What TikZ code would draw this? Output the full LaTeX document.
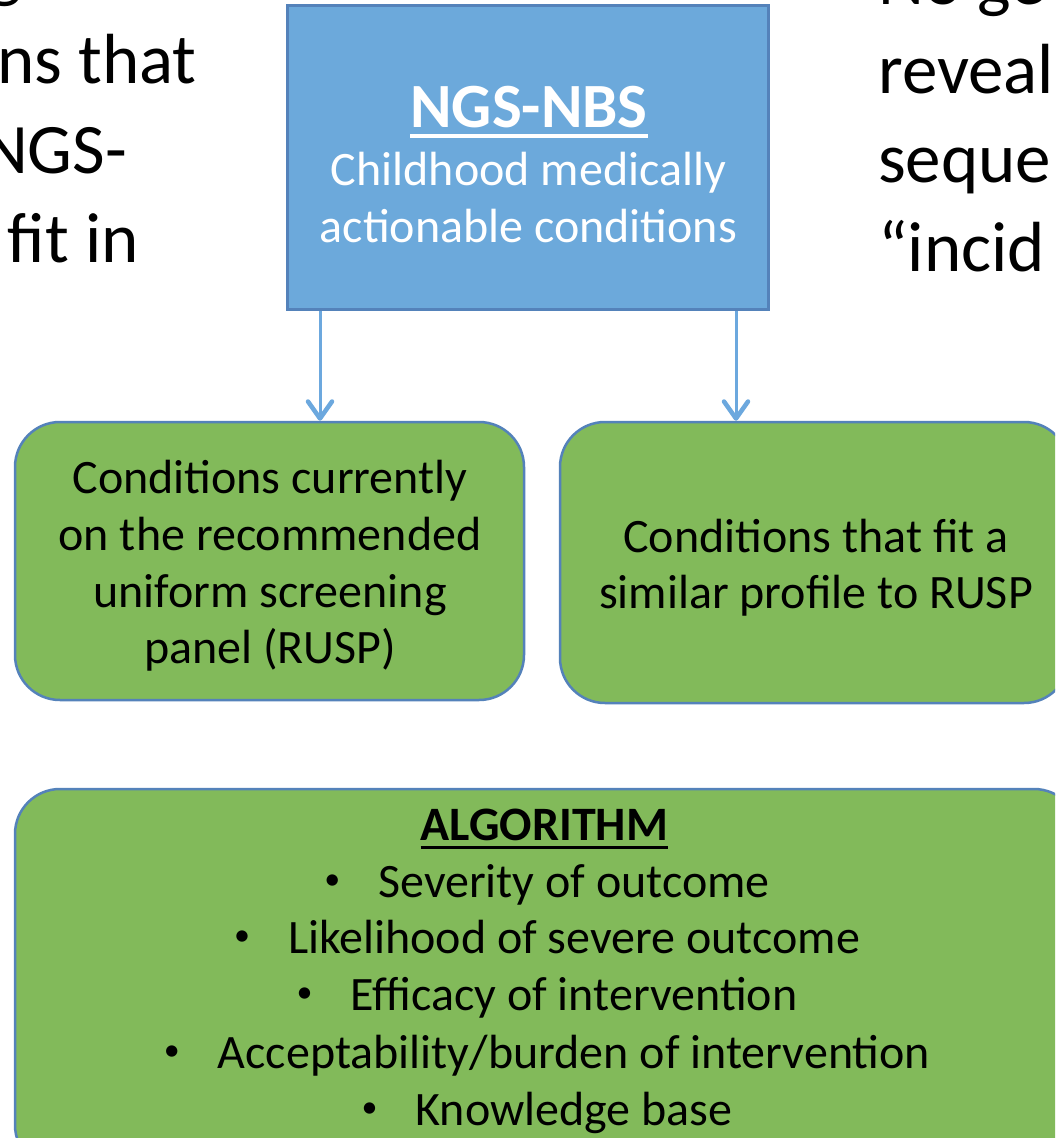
\documentclass[tikz,border=0pt]{standalone}
\usepackage{fontspec}
\setmainfont{Carlito}
\usetikzlibrary{arrows.meta}
\definecolor{boxblue}{RGB}{108,169,219}
\definecolor{edgeblue}{RGB}{84,130,186}
\definecolor{boxgreen}{RGB}{130,186,90}
\definecolor{arrowblue}{RGB}{108,168,222}
\newcommand{\mybul}{\makebox[54pt][l]{\raisebox{8pt}{\fontsize{32}{32}\selectfont•}}}
\begin{document}
\begin{tikzpicture}[x=1pt,y=-1pt,
  sidetext/.style={font=\fontsize{71}{89}\selectfont, inner sep=0pt},
  bodytext/.style={font=\fontsize{48}{57}\selectfont, inner sep=0pt, anchor=base},
  titletext/.style={font=\fontsize{63}{75}\selectfont\bfseries, inner sep=0pt, anchor=base, text=white},
  bluebox/.style={draw=edgeblue, fill=boxblue, line width=2.5pt, inner sep=0pt},
  greenbox/.style={draw=edgeblue, fill=boxgreen, line width=2.5pt, rounded corners=45pt, inner sep=0pt},
  arr/.style={draw=arrowblue, line width=3pt, -{Straight Barb[length=17pt, width=24pt, line width=4.5pt, round]}}
]
\useasboundingbox (0,0) rectangle (1055,1138);
\clip (0,0) rectangle (1055,1138);
\fill[white] (0,0) rectangle (1055,1138);

% partial side texts
\node[sidetext, anchor=base east] (l0) at (22,-6) {g};
\node[sidetext, anchor=base east] (l1) at (197,83) {ns that};
\node[sidetext, anchor=base east] (l2) at (127,173) {NGS-};
\node[sidetext, anchor=base east] (l3) at (139,262) {fit in};
\node[sidetext, anchor=base west] (r0) at (878,4) {No ge};
\node[sidetext, anchor=base west] (r1) at (878,93) {reveal};
\node[sidetext, anchor=base west] (r2) at (878,182) {seque};
\node[sidetext, anchor=base west] (r3) at (878,271) {“incid};

% top box
\node[bluebox, minimum width=481pt, minimum height=304pt] (ngs) at (528,157.5) {};
\node[titletext] (ngstitle) at (529,127) {NGS-NBS};
\draw[white, line width=4.5pt] ([yshift=-9pt]ngstitle.base west) -- ([yshift=-9pt]ngstitle.base east);
\node[bodytext, text=white] (ngs1) at (528.5,185) {Childhood medically};
\node[bodytext, text=white] (ngs2) at (528.5,242) {actionable conditions};

% middle boxes
\node[greenbox, minimum width=509pt, minimum height=278pt] (rusp) at (269.5,561) {};
\node[bodytext] (rusp1) at (270,493) {Conditions currently};
\node[bodytext] (rusp2) at (270,550) {on the recommended};
\node[bodytext] (rusp3) at (270,607) {uniform screening};
\node[bodytext] (rusp4) at (270,663) {panel (RUSP)};

\node[greenbox, minimum width=509pt, minimum height=281pt] (sim) at (814.5,562.5) {};
\node[bodytext] (sim1) at (816,552) {Conditions that fit a};
\node[bodytext] (sim2) at (816,608) {similar profile to RUSP};

% arrows
\coordinate (xa) at (320,0);
\coordinate (xb) at (736,0);
\draw[arr] (ngs.south -| xa) -- (rusp.north -| xa);
\draw[arr] (ngs.south -| xb) -- (sim.north -| xb);

% algorithm box
\node[greenbox, minimum width=1064pt, minimum height=381pt] (algo) at (547,979.5) {};
\node[bodytext, font=\fontsize{48}{57}\selectfont\bfseries] (algot) at (544.5,840) {ALGORITHM};
\draw[black, line width=3pt] ([yshift=-7pt]algot.base west) -- ([yshift=-7pt]algot.base east);
\node[bodytext] (a1) at (547,897) {\mybul Severity of outcome};
\node[bodytext] (a2) at (547,953) {\mybul Likelihood of severe outcome};
\node[bodytext] (a3) at (547,1010) {\mybul Efficacy of intervention};
\node[bodytext] (a4) at (547,1068) {\mybul Acceptability/burden of intervention};
\node[bodytext] (a5) at (547,1125) {\mybul Knowledge base};
\end{tikzpicture}
\end{document}
